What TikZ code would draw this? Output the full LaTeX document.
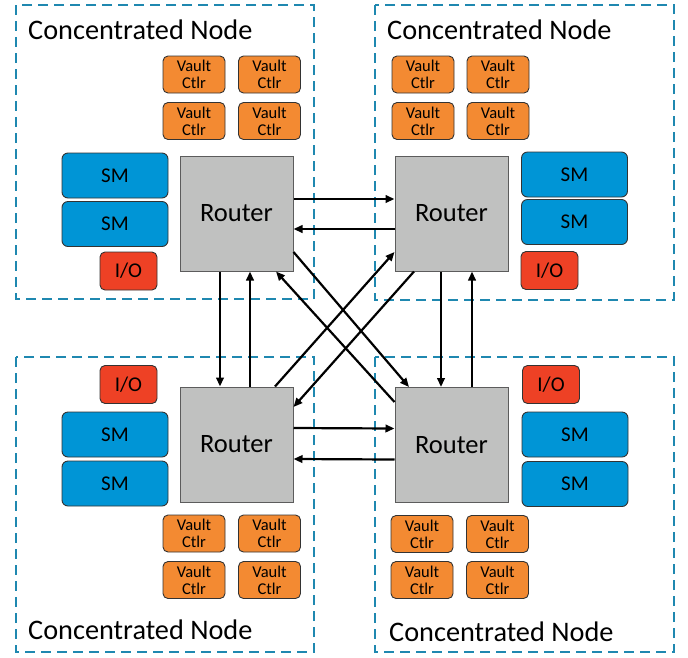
\documentclass[tikz,border=0pt]{standalone}
\usepackage{fontspec}
\setmainfont{Carlito}
\usetikzlibrary{arrows.meta}
\definecolor{dashc}{HTML}{1F88B0}
\definecolor{vaultc}{HTML}{F38A32}
\definecolor{smc}{HTML}{0095D6}
\definecolor{ioc}{HTML}{EE4125}
\definecolor{routc}{HTML}{C0C1C0}
\definecolor{edgec}{HTML}{333333}
\tikzset{
  dashbox/.style={draw=dashc, line width=2.6pt, dash pattern=on 10pt off 6pt},
  vault/.style={draw=edgec, line width=0.9pt, fill=vaultc, rounded corners=5pt, minimum width=62pt, minimum height=37pt, inner sep=0pt, align=center, font=\fontsize{16.5}{17}\selectfont},
  smbox/.style={draw=edgec, line width=0.9pt, fill=smc, rounded corners=6pt, minimum width=106pt, minimum height=45pt, inner sep=0pt, font=\fontsize{21}{22}\selectfont},
  iobox/.style={draw=edgec, line width=0.9pt, fill=ioc, rounded corners=5pt, minimum width=57pt, minimum height=38pt, inner sep=0pt, font=\fontsize{21}{22}\selectfont},
  router/.style={draw=edgec!80, line width=1pt, fill=routc, minimum width=113pt, minimum height=115pt, inner sep=0pt, font=\fontsize{26.5}{28}\selectfont},
  title/.style={anchor=base west, inner sep=0pt, font=\fontsize{28.3}{30}\selectfont},
  arr/.style={line width=2.2pt, -{Triangle[length=9pt,width=7.5pt]}}
}
\begin{document}
\begin{tikzpicture}[x=1pt,y=-1pt]
\useasboundingbox (0,0) rectangle (688,657);
% concentrated node frames
\draw[dashbox] (16,5) rectangle (314,299);
\draw[dashbox] (375,5) rectangle (674,300);
\draw[dashbox] (16,357) rectangle (314,652);
\draw[dashbox] (375,357) rectangle (674,652);
\node[title] (t1) at (28,39) {Concentrated Node};
\node[title] (t2) at (387,39) {Concentrated Node};
\node[title] (t3) at (28,639) {Concentrated Node};
\node[title] (t4) at (389,641) {Concentrated Node};
% vault controllers
\node[vault] (v11) at (194,74.5) {Vault\\Ctlr};
\node[vault] (v12) at (269.5,74.5) {Vault\\Ctlr};
\node[vault] (v13) at (194,121) {Vault\\Ctlr};
\node[vault] (v14) at (269.5,121) {Vault\\Ctlr};
\node[vault] (v21) at (423,74.5) {Vault\\Ctlr};
\node[vault] (v22) at (498,74.5) {Vault\\Ctlr};
\node[vault] (v23) at (423,121) {Vault\\Ctlr};
\node[vault] (v24) at (498,121) {Vault\\Ctlr};
\node[vault] (v31) at (194,533.5) {Vault\\Ctlr};
\node[vault] (v32) at (269.5,533.5) {Vault\\Ctlr};
\node[vault] (v33) at (194,580) {Vault\\Ctlr};
\node[vault] (v34) at (269.5,580) {Vault\\Ctlr};
\node[vault] (v41) at (422,534) {Vault\\Ctlr};
\node[vault] (v42) at (497.5,534) {Vault\\Ctlr};
\node[vault] (v43) at (422,580) {Vault\\Ctlr};
\node[vault] (v44) at (497.5,580) {Vault\\Ctlr};
% SMs
\node[smbox] (s11) at (115,175.5) {SM};
\node[smbox] (s12) at (115,224) {SM};
\node[smbox] (s21) at (574.5,174.5) {SM};
\node[smbox] (s22) at (574.5,222) {SM};
\node[smbox] (s31) at (115,434.5) {SM};
\node[smbox] (s32) at (115,483.5) {SM};
\node[smbox] (s41) at (575,434.5) {SM};
\node[smbox] (s42) at (575,484) {SM};
% I/O
\node[iobox] (io1) at (128.5,271) {I/O};
\node[iobox] (io2) at (549.5,270.5) {I/O};
\node[iobox] (io3) at (128.5,384.5) {I/O};
\node[iobox] (io4) at (551,384.5) {I/O};
% routers
\node[router] (tl) at (236.5,213.5) {Router};
\node[router] (tr) at (451.5,213.5) {Router};
\node[router] (bl) at (236.5,444.5) {Router};
\node[router] (br) at (451.5,445) {Router};
% horizontal links
\draw[arr] ([yshift=14.5pt]tl.east) -- ([yshift=14.5pt]tr.west);
\draw[arr] ([yshift=-15.5pt]tr.west) -- ([yshift=-15.5pt]tl.east);
\draw[arr] ([yshift=16.5pt]bl.east) -- ([yshift=16.5pt]br.west);
\draw[arr] ([yshift=-14.5pt]br.west) -- ([yshift=-14.5pt]bl.east);
% vertical links
\draw[arr] ([xshift=-16.5pt]tl.south) -- ([xshift=-16.5pt]bl.north);
\draw[arr] ([xshift=13.5pt]bl.north) -- ([xshift=13.5pt]tl.south);
\draw[arr] ([xshift=-10.5pt]tr.south) -- ([xshift=-10.5pt]br.north);
\draw[arr] ([xshift=20.5pt]br.north) -- ([xshift=20.5pt]tr.south);
% diagonal links
\draw[arr] ([yshift=-38.5pt]tl.east) -- ([xshift=-42.5pt]br.north);
\draw[arr] ([yshift=43pt]br.west) -- ([xshift=39.5pt]tl.south);
\draw[arr] ([xshift=38.5pt]bl.north) -- ([yshift=-38.5pt]tr.west);
\draw[arr] ([xshift=-37.5pt]tr.south) -- ([yshift=37.5pt]bl.east);
\end{tikzpicture}
\end{document}
